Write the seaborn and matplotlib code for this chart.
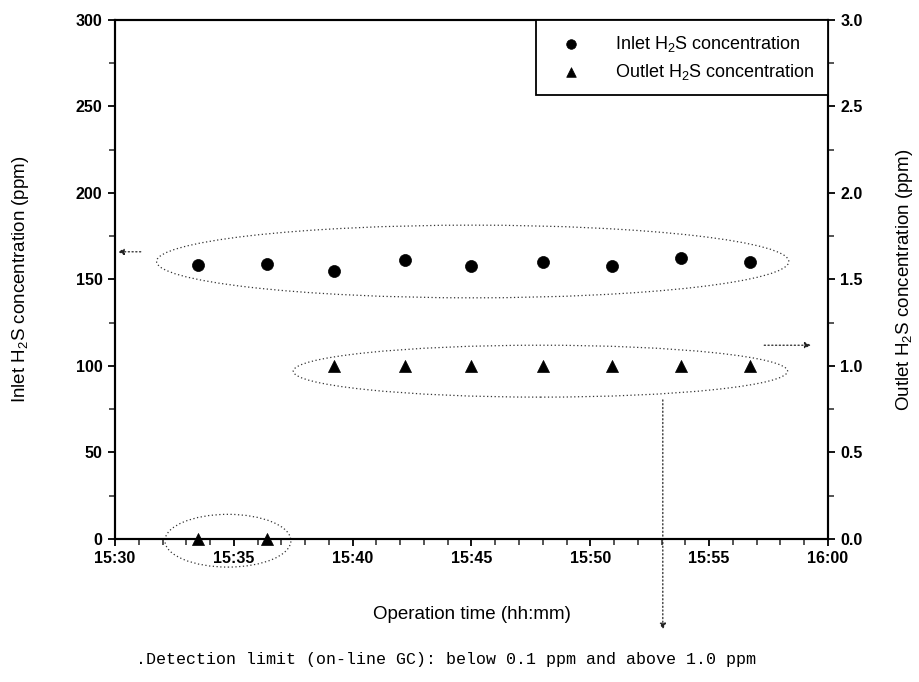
import numpy as np
import pandas as pd
import matplotlib
matplotlib.use("Agg")
import matplotlib.pyplot as plt
import seaborn as sns
from matplotlib.patches import Ellipse
from matplotlib.ticker import MultipleLocator

# ---- data (minutes after 15:00) ----
time_min = [33.5, 36.4, 39.2, 42.2, 45.0, 48.0, 50.9, 53.8, 56.7]
inlet_ppm = [158.5, 159.0, 155.0, 161.5, 158.0, 160.0, 158.0, 162.5, 160.0]
outlet_ppm = [0.0, 0.0, 1.0, 1.0, 1.0, 1.0, 1.0, 1.0, 1.0]
x_ticks = [30, 35, 40, 45, 50, 55, 60]
x_labels = ["15:30", "15:35", "15:40", "15:45", "15:50", "15:55", "16:00"]
left_ticks = [0, 50, 100, 150, 200, 250, 300]
right_ticks = [0.0, 0.5, 1.0, 1.5, 2.0, 2.5, 3.0]
series_labels = ["Inlet H$_2$S concentration", "Outlet H$_2$S concentration"]
note_text = ".Detection limit (on-line GC): below 0.1 ppm and above 1.0 ppm"

sns.set_style("ticks")
plt.rcParams['font.family'] = ['Liberation Sans', 'DejaVu Sans']
plt.rcParams['mathtext.fontset'] = 'custom'
plt.rcParams['mathtext.rm'] = 'Liberation Sans'
plt.rcParams['text.color'] = 'black'
plt.rcParams['axes.labelcolor'] = 'black'

fig = plt.figure(figsize=(9.2, 6.82), dpi=100)
ax = fig.add_axes([0.125, 0.2097, 0.775, 0.761])
ax2 = ax.twinx()

df = pd.DataFrame({"time": time_min, "inlet": inlet_ppm, "outlet": outlet_ppm})

sns.scatterplot(data=df, x="time", y="inlet", marker="o", s=75, color="black",
                edgecolor="black", linewidth=0.5, ax=ax, label=series_labels[0], zorder=4)
sns.scatterplot(data=df, x="time", y="outlet", marker="^", s=75, color="black",
                edgecolor="black", linewidth=0.5, ax=ax2, label=series_labels[1], zorder=4,
                clip_on=False)

ax.set_xlim(30, 60)
ax.set_ylim(0, 300)
ax2.set_ylim(0, 3.0)

ax.set_xticks(x_ticks)
ax.set_xticklabels(x_labels)
ax.xaxis.set_minor_locator(MultipleLocator(1))
ax.set_yticks(left_ticks)
ax.yaxis.set_minor_locator(MultipleLocator(25))
ax2.set_yticks(right_ticks)
ax2.set_yticklabels([f"{v:.1f}" for v in right_ticks])
ax2.yaxis.set_minor_locator(MultipleLocator(0.25))

for a in (ax, ax2):
    for s in a.spines.values():
        s.set_visible(True)
        s.set_linewidth(1.5)
        s.set_color("black")
    a.tick_params(which="major", direction="out", length=5, width=1.3, labelsize=11.5,
                  colors="black", pad=4)
    a.tick_params(which="minor", direction="out", length=4, width=1.1)
for lab in ax.get_xticklabels() + ax.get_yticklabels() + ax2.get_yticklabels():
    lab.set_fontweight("bold")

ax.set_xlabel("Operation time (hh:mm)", fontsize=13.5)
ax.set_ylabel("Inlet H$_2$S concentration (ppm)", fontsize=13.5)
ax2.set_ylabel("Outlet H$_2$S concentration (ppm)", fontsize=13.5)
ax.xaxis.set_label_coords(0.5, -0.13)
ax.yaxis.set_label_coords(-0.118, 0.5)
ax2.yaxis.set_label_coords(1.092, 0.5)

# ---- dotted ellipses and arrows ----
ell_kw = dict(fill=False, linestyle=(0, (1, 2)), linewidth=0.9, edgecolor="#333333", clip_on=False)
ax.add_patch(Ellipse((45.05, 160.4), 26.6, 42.0, **ell_kw))
ax.add_patch(Ellipse((47.9, 97.0), 20.8, 30.0, **ell_kw))
ax.add_patch(Ellipse((34.75, -1.0), 5.3, 30.5, **ell_kw))

arr_kw = dict(arrowstyle="-|>", linestyle=(0, (1, 2)), linewidth=0.9, color="#222222",
              mutation_scale=9)
ax.annotate("", xy=(30.0, 166.0), xytext=(31.2, 166.0), arrowprops=arr_kw,
            annotation_clip=False)
ax.annotate("", xy=(59.4, 112.0), xytext=(57.2, 112.0), arrowprops=arr_kw,
            annotation_clip=False)
ax.annotate("", xy=(53.05, -54.0), xytext=(53.05, 82.0), arrowprops=arr_kw,
            annotation_clip=False)

fig.text(0.485, 0.022, note_text, ha="center", va="bottom", fontsize=12,
         family=["Liberation Mono", "DejaVu Sans Mono"])

# ---- legend ----
h1, l1 = ax.get_legend_handles_labels()
h2, l2 = ax2.get_legend_handles_labels()
if ax.get_legend() is not None:
    ax.get_legend().remove()
leg = ax2.legend(h1 + h2, l1 + l2, loc="upper right", frameon=True, fancybox=False,
                 edgecolor="black", framealpha=1, borderaxespad=0, fontsize=13,
                 borderpad=0.75, handletextpad=1.2, labelspacing=0.45, markerscale=0.8,
                 handlelength=2.4)
leg.get_frame().set_linewidth(1.3)
leg.set_zorder(10)

fig.savefig("out.png", dpi=100)
